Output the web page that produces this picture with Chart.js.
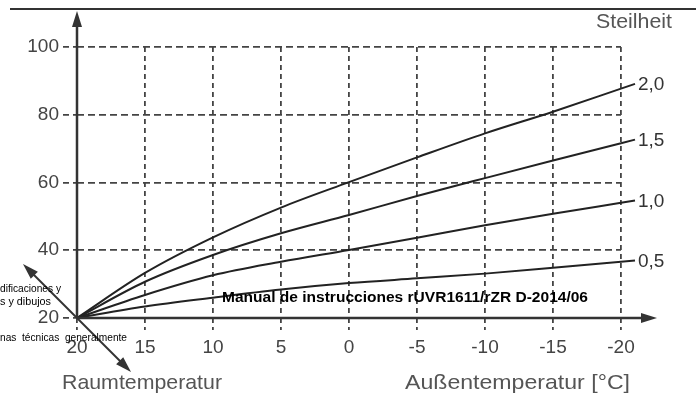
<!DOCTYPE html>
<html lang="de">
<head>
  <meta charset="UTF-8" />
  <title>Heizkurve</title>
  <script src="https://cdn.jsdelivr.net/npm/chart.js"></script>
  <style>
    body { margin: 0; background: #fff; }
    #wrap { width: 696px; height: 396px; }
  </style>
</head>
<body>
  <div id="wrap"><canvas id="curveChart" width="696" height="396"></canvas></div>

  <script>
    // outside temperature (x) and flow temperature per slope (y)
    const outsideTemps = [20, 15, 10, 5, 0, -5, -10, -15, -20];
    const slope20 = [20, 33.3, 43.8, 52.6, 60.1, 67.4, 74.5, 80.9, 87.7];
    const slope15 = [20, 30.7, 38.6, 45.0, 50.4, 56.0, 61.3, 66.5, 71.6];
    const slope10 = [20, 26.8, 32.6, 36.6, 40.1, 43.7, 47.4, 50.8, 54.0];
    const slope05 = [20, 23.4, 26.0, 28.4, 30.3, 31.7, 33.1, 34.8, 36.6];
    const slopeLabels = ['2,0', '1,5', '1,0', '0,5'];
    const yTicks = [20, 40, 60, 80, 100];

    const FONT = '"Liberation Sans", Arial, sans-serif';

    function arrowHead(ctx, x, y, angle, len, half) {
      ctx.save();
      ctx.translate(x, y);
      ctx.rotate(angle);
      ctx.beginPath();
      ctx.moveTo(0, 0);
      ctx.lineTo(-len, -half);
      ctx.lineTo(-len, half);
      ctx.closePath();
      ctx.fill();
      ctx.restore();
    }

    function fitText(ctx, text, x, y, width) {
      const w = ctx.measureText(text).width;
      ctx.save();
      ctx.translate(x, y);
      ctx.scale(width / w, 1);
      ctx.fillText(text, 0, 0);
      ctx.restore();
    }

    const decor = {
      id: 'decor',
      afterDraw(chart) {
        const ctx = chart.ctx;
        const xs = chart.scales.x, ys = chart.scales.y;
        const x0 = xs.getPixelForValue(20);
        const y0 = ys.getPixelForValue(20);
        ctx.save();
        ctx.strokeStyle = '#333';
        ctx.fillStyle = '#333';
        ctx.setLineDash([]);

        // top border line
        ctx.lineWidth = 2;
        ctx.beginPath();
        ctx.moveTo(10, 9);
        ctx.lineTo(696, 9);
        ctx.stroke();

        // axes with arrows
        ctx.lineWidth = 2.5;
        ctx.beginPath();
        ctx.moveTo(x0, y0);
        ctx.lineTo(x0, 20);
        ctx.moveTo(x0, y0);
        ctx.lineTo(645, y0);
        ctx.stroke();
        arrowHead(ctx, x0, 11, -Math.PI / 2, 16, 5);
        arrowHead(ctx, 657, y0, 0, 16, 5);

        // diagonal double arrow through origin
        ctx.lineWidth = 2;
        ctx.beginPath();
        ctx.moveTo(32, y0 - 45);
        ctx.lineTo(122, y0 + 45);
        ctx.stroke();
        arrowHead(ctx, 23, y0 - 54, -3 * Math.PI / 4, 16, 5);
        arrowHead(ctx, 131, y0 + 54, Math.PI / 4, 16, 5);

        // leader lines and slope labels
        ctx.fillStyle = '#333';
        ctx.font = '19px ' + FONT;
        ctx.textBaseline = 'middle';
        ctx.textAlign = 'left';
        ctx.lineWidth = 2;
        chart.data.datasets.forEach((ds, i) => {
          const pts = chart.getDatasetMeta(i).data;
          const a = pts[pts.length - 2], b = pts[pts.length - 1];
          const k = (b.y - a.y) / (b.x - a.x);
          const ex = b.x + 14, ey = b.y + k * 14;
          ctx.strokeStyle = '#222';
          ctx.beginPath();
          ctx.moveTo(b.x, b.y);
          ctx.lineTo(ex, ey);
          ctx.stroke();
          ctx.fillText(slopeLabels[i], ex + 3, ey + 1);
        });

        // titles
        ctx.fillStyle = '#555';
        ctx.font = '21px ' + FONT;
        ctx.textBaseline = 'middle';
        fitText(ctx, 'Steilheit', 596, 22, 76);
        fitText(ctx, 'Raumtemperatur', 62, 383, 160);
        fitText(ctx, 'Außentemperatur [°C]', 405, 383, 225);

        // overlaid document text
        ctx.fillStyle = '#000';
        ctx.font = 'bold 15px ' + FONT;
        fitText(ctx, 'Manual de instrucciones rUVR1611/rZR D-2014/06', 222, 298, 366);
        ctx.font = '10px ' + FONT;
        fitText(ctx, 'dificaciones y', 0, 289, 61);
        fitText(ctx, 's y dibujos', 0, 302, 51);
        fitText(ctx, 'nas  técnicas  generalmente', 0, 338, 127);
        ctx.restore();
      }
    };

    const lineStyle = {
      borderColor: '#222',
      borderWidth: 2,
      pointRadius: 0,
      fill: false,
      cubicInterpolationMode: 'monotone',
      clip: false
    };

    new Chart(document.getElementById('curveChart'), {
      type: 'line',
      data: {
        datasets: [
          { label: slopeLabels[0], data: outsideTemps.map((t, i) => ({ x: t, y: slope20[i] })), ...lineStyle },
          { label: slopeLabels[1], data: outsideTemps.map((t, i) => ({ x: t, y: slope15[i] })), ...lineStyle },
          { label: slopeLabels[2], data: outsideTemps.map((t, i) => ({ x: t, y: slope10[i] })), ...lineStyle },
          { label: slopeLabels[3], data: outsideTemps.map((t, i) => ({ x: t, y: slope05[i] })), ...lineStyle }
        ]
      },
      options: {
        responsive: false,
        animation: false,
        layout: { padding: { top: 47, right: 75, left: 0, bottom: 0 } },
        plugins: { legend: { display: false }, tooltip: { enabled: false } },
        scales: {
          x: {
            type: 'linear',
            reverse: true,
            min: -20,
            max: 20,
            afterFit: s => { s.height = 78; },
            afterBuildTicks: s => { s.ticks = outsideTemps.map(v => ({ value: v })); },
            border: { display: false, dash: [5, 4] },
            grid: {
              color: '#444',
              lineWidth: 1.8,
              drawTicks: true,
              tickLength: 12,
              tickColor: '#444',
              tickWidth: 1.8,
              tickBorderDash: [5, 4]
            },
            ticks: {
              color: '#444',
              font: { family: FONT, size: 19 },
              padding: 6,
              autoSkip: false,
              maxRotation: 0,
              callback: v => String(v)
            }
          },
          y: {
            min: 20,
            max: 100,
            afterFit: s => { s.width = 77; },
            afterBuildTicks: s => { s.ticks = yTicks.map(v => ({ value: v })); },
            border: { display: false, dash: [7, 4] },
            grid: {
              color: '#444',
              lineWidth: 1.8,
              drawTicks: true,
              tickLength: 14,
              tickColor: '#444',
              tickWidth: 1.8,
              tickBorderDash: [6, 4]
            },
            ticks: {
              color: '#444',
              font: { family: FONT, size: 19 },
              padding: 4,
              callback: v => String(v)
            }
          }
        }
      },
      plugins: [decor]
    });
  </script>
</body>
</html>
